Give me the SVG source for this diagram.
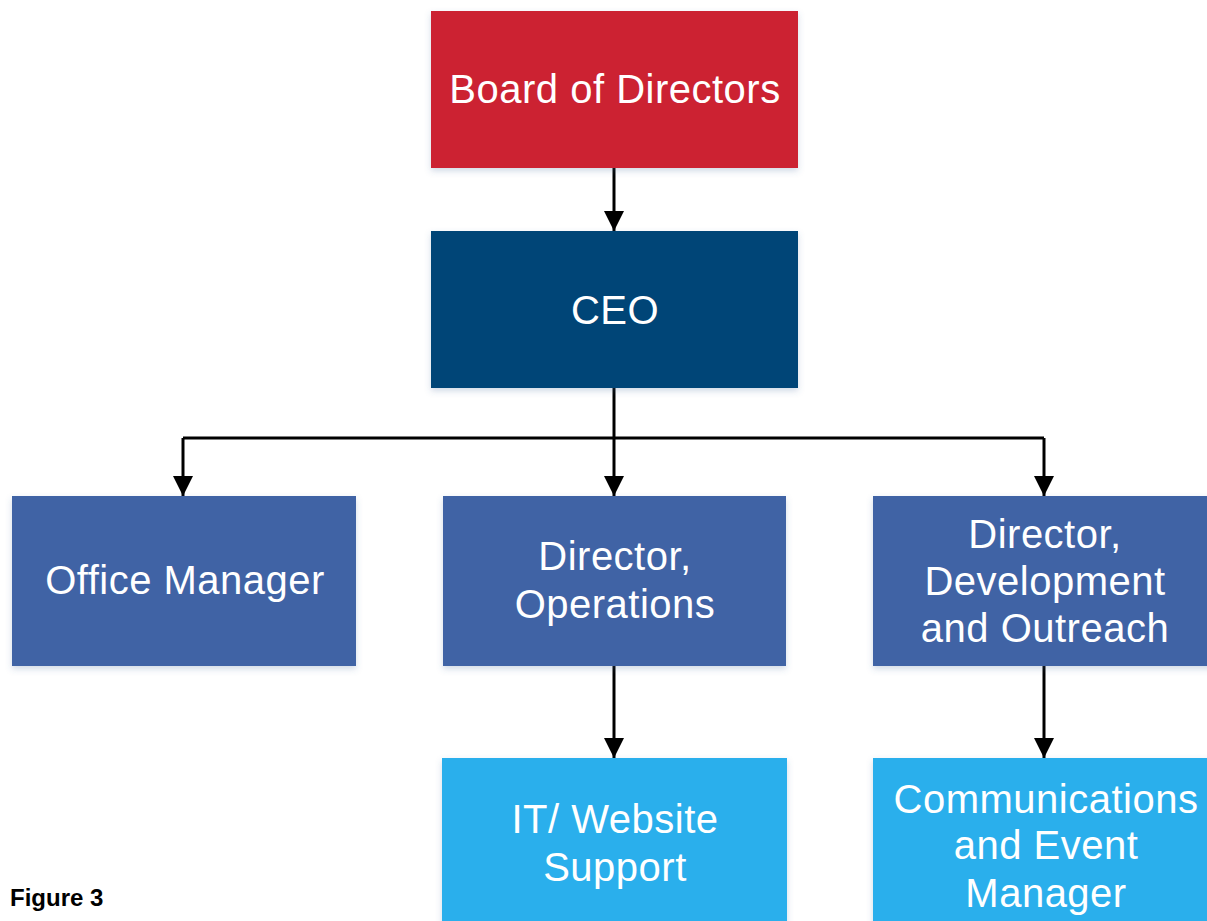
<svg xmlns="http://www.w3.org/2000/svg" width="1207" height="921" viewBox="0 0 1207 921">
  <defs>
    <marker id="arrow" viewBox="0 0 20 20" refX="20" refY="10" markerWidth="20" markerHeight="20" markerUnits="userSpaceOnUse" orient="auto">
      <path d="M0,0 L20,10 L0,20 Z" fill="#000"/>
    </marker>
    <filter id="shadow" x="-5%" y="-5%" width="110%" height="115%">
      <feDropShadow dx="0" dy="3" stdDeviation="3" flood-color="#4a6a9a" flood-opacity="0.25"/>
    </filter>
  </defs>
  <style>
    .box { filter: url(#shadow); }
    .label { font-family: "Liberation Sans", Arial, sans-serif; font-size: 40px; letter-spacing: 0.5px; fill: #ffffff; text-anchor: middle; }
    .edge { fill: none; stroke: #000; stroke-width: 3; }
    .caption { font-family: "Liberation Sans", Arial, sans-serif; font-size: 24px; font-weight: bold; fill: #000; }
  </style>
  <rect width="1207" height="921" fill="#ffffff"/>

  <g id="connectors">
    <path class="edge" d="M614,168 L614,231" marker-end="url(#arrow)"/>
    <path class="edge" d="M614,388 L614,438"/>
    <path class="edge" d="M183,438 L1044,438"/>
    <path class="edge" d="M183,438 L183,496" marker-end="url(#arrow)"/>
    <path class="edge" d="M614,438 L614,496" marker-end="url(#arrow)"/>
    <path class="edge" d="M1044,438 L1044,496" marker-end="url(#arrow)"/>
    <path class="edge" d="M614,666 L614,758" marker-end="url(#arrow)"/>
    <path class="edge" d="M1044,666 L1044,758" marker-end="url(#arrow)"/>
  </g>

  <g id="board">
    <rect class="box" x="431" y="11" width="367" height="157" fill="#cc2131"/>
    <text class="label" x="615" y="103">Board of Directors</text>
  </g>

  <g id="ceo">
    <rect class="box" x="431" y="231" width="367" height="157" fill="#034577"/>
    <text class="label" x="615" y="324">CEO</text>
  </g>

  <g id="office-manager">
    <rect class="box" x="12" y="496" width="344" height="170" fill="#4163a5"/>
    <text class="label" x="185" y="594">Office Manager</text>
  </g>

  <g id="director-operations">
    <rect class="box" x="443" y="496" width="343" height="170" fill="#4163a5"/>
    <text class="label" x="615" y="570">Director,</text>
    <text class="label" x="615" y="618">Operations</text>
  </g>

  <g id="director-development">
    <rect class="box" x="873" y="496" width="343" height="170" fill="#4163a5"/>
    <text class="label" x="1045" y="548">Director,</text>
    <text class="label" x="1045" y="595">Development</text>
    <text class="label" x="1045" y="642">and Outreach</text>
  </g>

  <g id="it-website">
    <rect class="box" x="442" y="758" width="345" height="180" fill="#2aafec"/>
    <text class="label" x="615" y="833">IT/ Website</text>
    <text class="label" x="615" y="881">Support</text>
  </g>

  <g id="communications">
    <rect class="box" x="873" y="758" width="343" height="180" fill="#2aafec"/>
    <text class="label" x="1046" y="813">Communications</text>
    <text class="label" x="1046" y="859">and Event</text>
    <text class="label" x="1046" y="907">Manager</text>
  </g>

  <text class="caption" x="10" y="906">Figure 3</text>
</svg>
